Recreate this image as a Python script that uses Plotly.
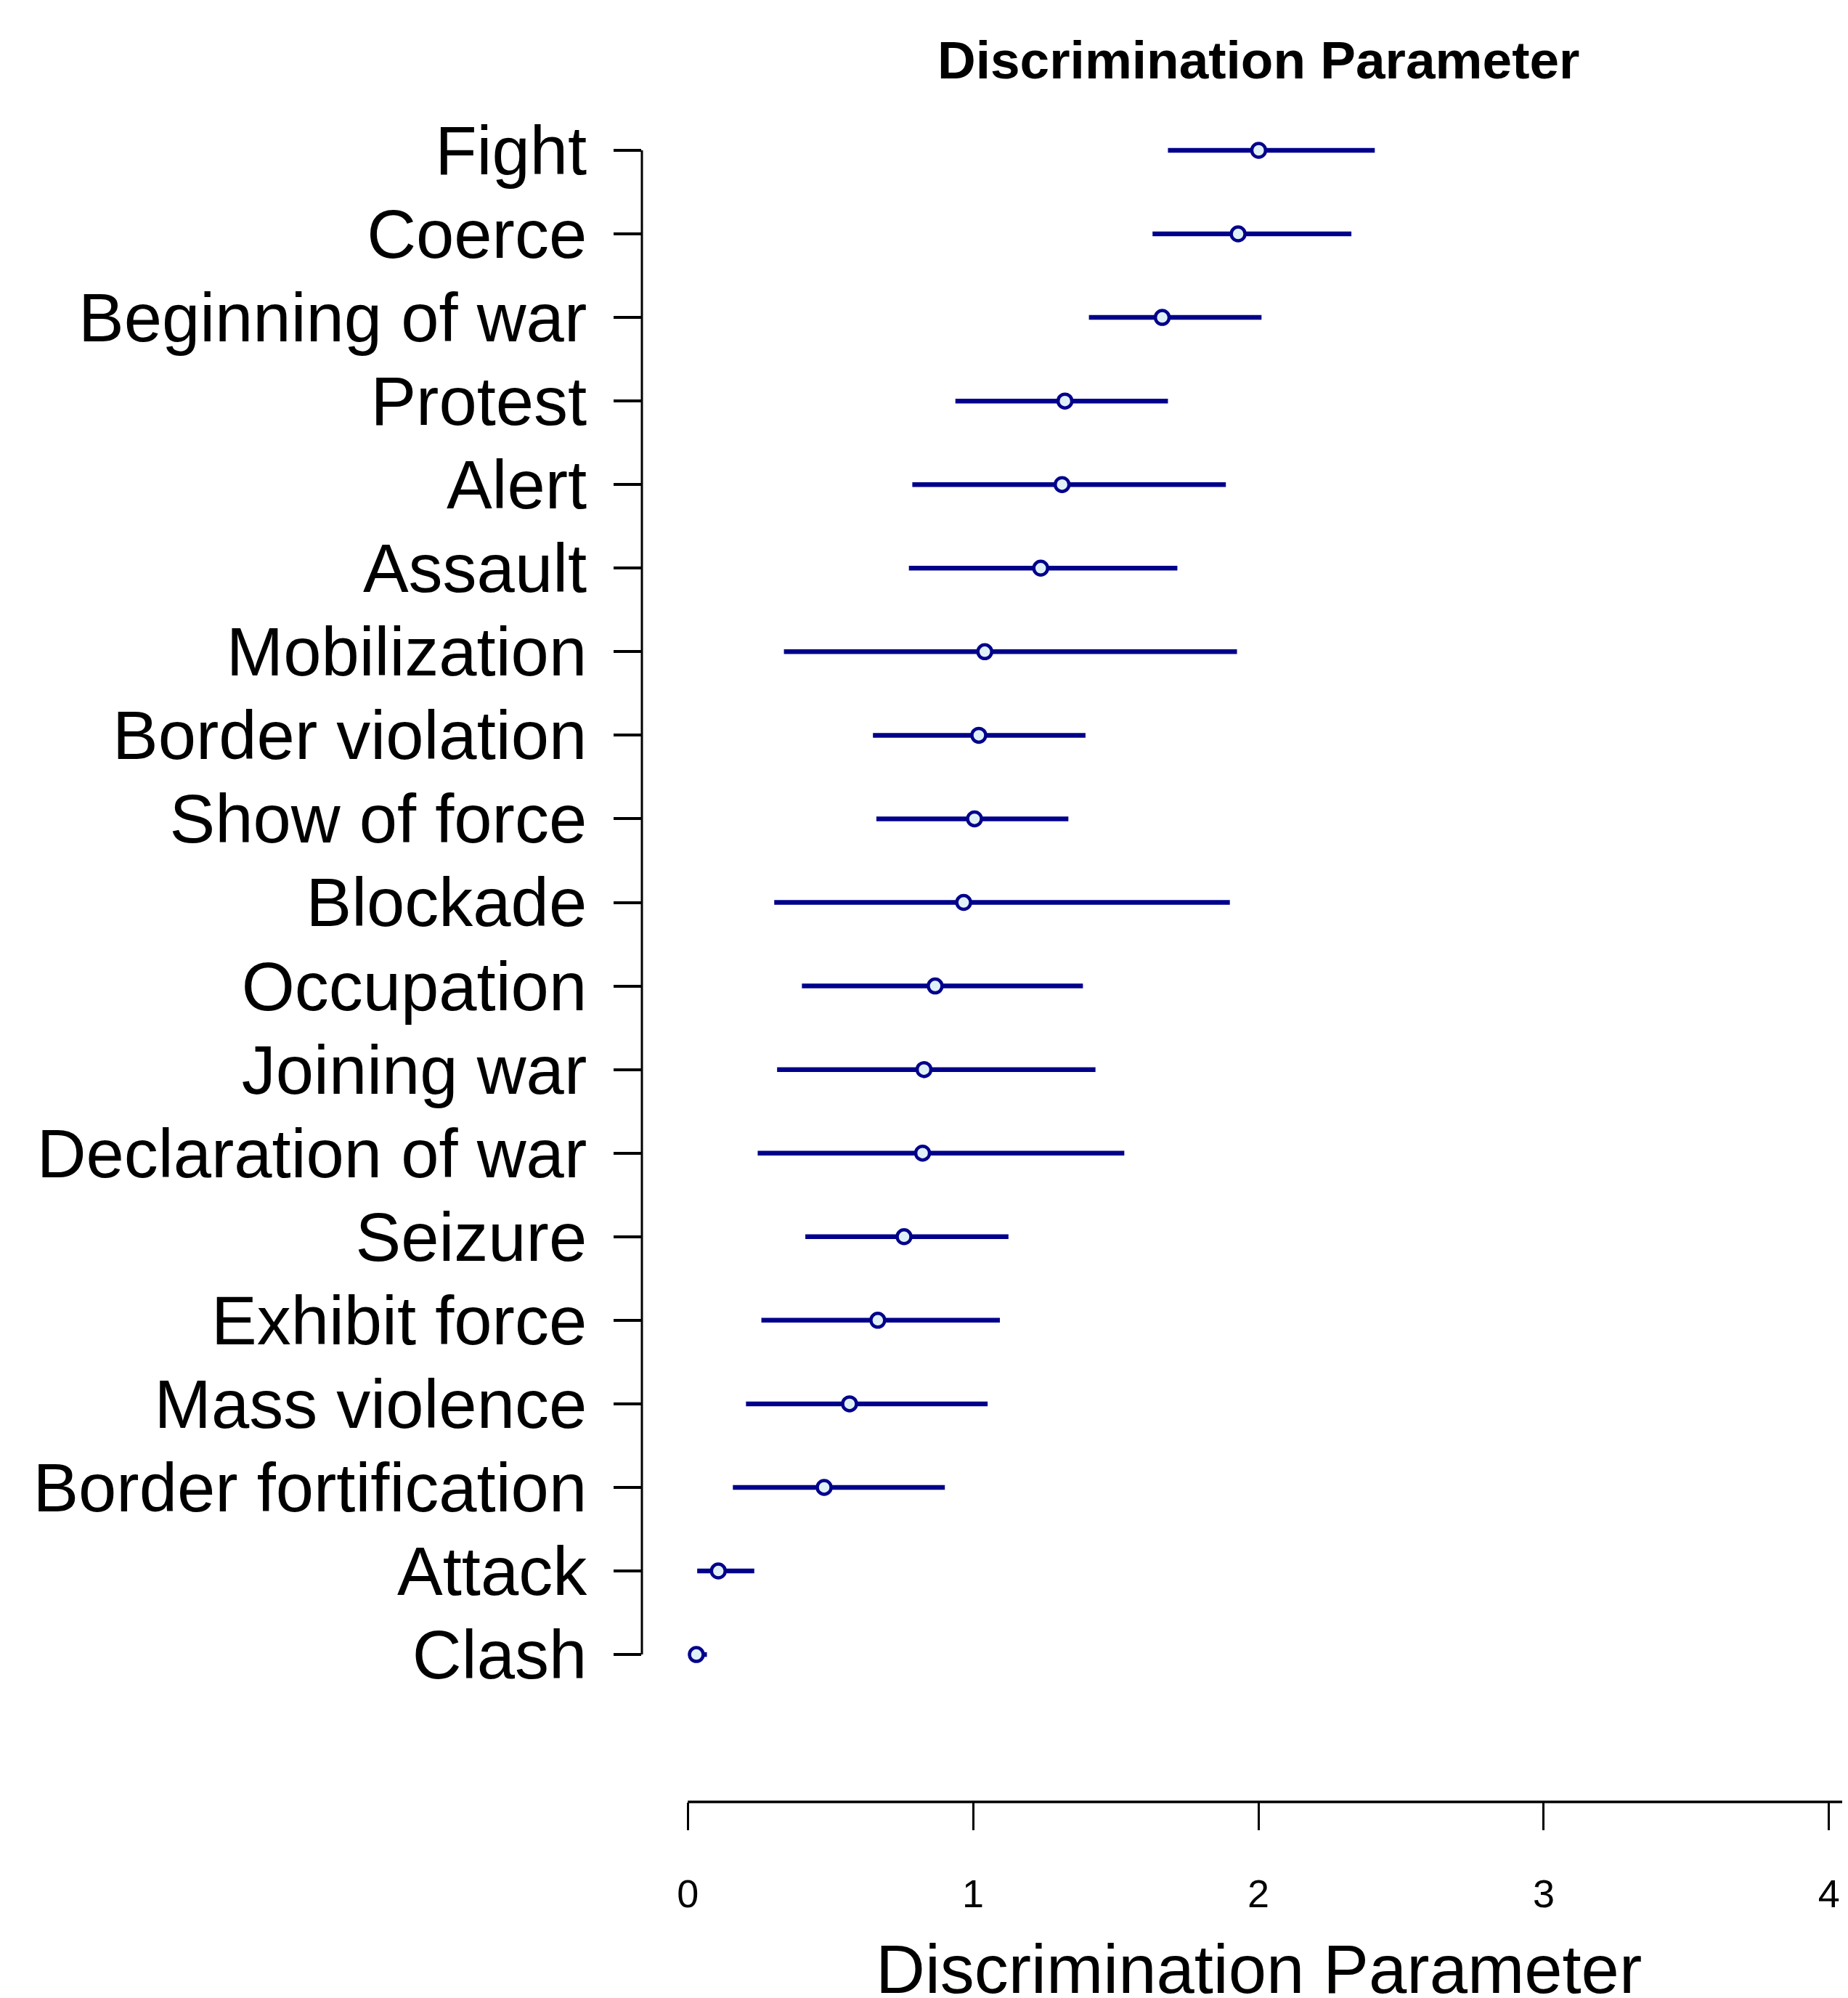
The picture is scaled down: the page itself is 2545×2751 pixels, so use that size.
import plotly.graph_objects as go

# ---- data ----
labels = ["Fight", "Coerce", "Beginning of war", "Protest", "Alert", "Assault",
          "Mobilization", "Border violation", "Show of force", "Blockade",
          "Occupation", "Joining war", "Declaration of war", "Seizure",
          "Exhibit force", "Mass violence", "Border fortification", "Attack", "Clash"]
estimate = [2.001, 1.929, 1.663, 1.322, 1.312, 1.237, 1.041, 1.020, 1.005, 0.967,
            0.867, 0.828, 0.823, 0.758, 0.666, 0.567, 0.478, 0.107, 0.030]
lower = [1.683, 1.629, 1.406, 0.938, 0.787, 0.775, 0.337, 0.649, 0.661, 0.303,
         0.400, 0.313, 0.245, 0.412, 0.258, 0.204, 0.158, 0.033, 0.010]
upper = [2.408, 2.326, 2.011, 1.683, 1.886, 1.716, 1.925, 1.394, 1.334, 1.900,
         1.385, 1.429, 1.530, 1.124, 1.094, 1.051, 0.901, 0.233, 0.067]
x_ticks = [0, 1, 2, 3, 4]
x_tick_labels = ["0", "1", "2", "3", "4"]
title_text = "Discrimination Parameter"
xlab_text = "Discrimination Parameter"

# ---- styling / layout ----
# page body has an 8px margin, so the figure is drawn 8px smaller
W, H = 2537, 2743
FONT = "Liberation Sans, Arial, Helvetica, sans-serif"
LINE_COL = "#00008B"
FILL_COL = "#E0F0F7"

n = len(labels)
ypos = list(range(n))

# whiskers as one trace with gaps
xs, ys = [], []
for i in range(n):
    xs += [lower[i], upper[i], None]
    ys += [ypos[i], ypos[i], None]

fig = go.Figure()
fig.add_trace(go.Scatter(x=xs, y=ys, mode="lines",
                         line=dict(color=LINE_COL, width=6.5),
                         hoverinfo="skip", showlegend=False))
fig.add_trace(go.Scatter(x=estimate, y=ypos, mode="markers",
                         marker=dict(symbol="circle", size=19, color=FILL_COL,
                                     line=dict(color=LINE_COL, width=4.5)),
                         text=labels, showlegend=False))

# pixel geometry (figure coordinates)
plot_left = 876
plot_top = 92
plot_bottom = 2473
x0_px, unit_px = 939.2, 392.9
row0_px, row_step = 199.0, 115.06

x_min = (plot_left - x0_px) / unit_px
x_max = (W - x0_px) / unit_px
y_top = 0 - (row0_px - plot_top) / row_step
y_bot = (n - 1) + (plot_bottom - (row0_px + (n - 1) * row_step)) / row_step

fig.update_layout(
    width=W, height=H,
    margin=dict(l=plot_left, r=0, t=plot_top, b=H - plot_bottom, pad=0),
    paper_bgcolor="white", plot_bgcolor="white",
    font=dict(family=FONT, color="black"),
    xaxis=dict(range=[x_min, x_max], showgrid=False, zeroline=False,
               showline=False, tickmode="array", tickvals=x_ticks,
               ticktext=x_tick_labels, ticks="outside", ticklen=38,
               tickwidth=3, tickcolor="black",
               tickfont=dict(size=54, family=FONT, color="black"),
               ticklabelstandoff=41),
    yaxis=dict(range=[y_bot, y_top], showgrid=False, zeroline=False,
               showline=False, tickmode="array", tickvals=ypos,
               ticktext=labels, ticks="outside", ticklen=38,
               tickwidth=3.5, tickcolor="black",
               tickfont=dict(size=94, family=FONT, color="black"),
               ticklabelstandoff=18),
)

# axis lines (R style: y line spans first..last tick; x line from first tick on)
fig.add_shape(type="line", xref="paper", yref="y", x0=0, x1=0,
              y0=ypos[0], y1=ypos[-1], line=dict(color="black", width=3))
fig.add_shape(type="line", xref="x", yref="paper", x0=x_ticks[0], x1=x_max,
              y0=0, y1=0, line=dict(color="black", width=3.5))

mid = (x_ticks[0] + x_ticks[-1]) / 2
fig.add_annotation(text="<b>" + title_text + "</b>", xref="x", yref="paper",
                   x=mid, y=1, yanchor="middle", yshift=17.5, showarrow=False,
                   font=dict(size=73, family=FONT, color="black"))
fig.add_annotation(text=xlab_text, xref="x", yref="paper",
                   x=mid, y=0, yanchor="middle", yshift=-230,
                   showarrow=False,
                   font=dict(size=94, family=FONT, color="black"))

fig.write_html("out.html")
